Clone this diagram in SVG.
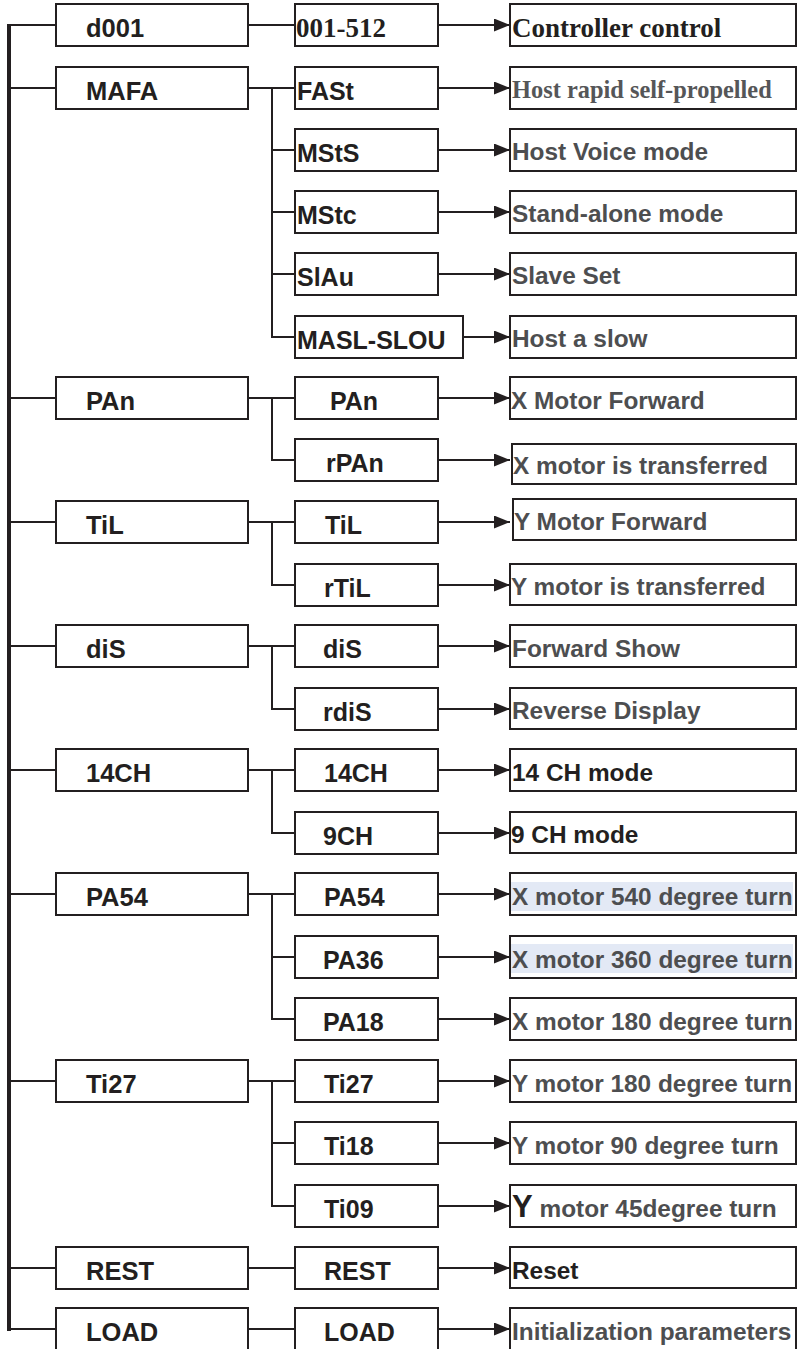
<svg xmlns="http://www.w3.org/2000/svg" width="798" height="1349" viewBox="0 0 798 1349">
<style>
.box{fill:#fff;stroke:#231f20;stroke-width:2}
.hl{fill:#e3e9f5;stroke:none}
.c1{font-family:"Liberation Sans",Arial,sans-serif;font-weight:bold;font-size:25.5px;fill:#231f20}
.c2{font-family:"Liberation Sans",Arial,sans-serif;font-weight:bold;font-size:25px;fill:#231f20}
.c2t{font-family:"Liberation Serif","Times New Roman",serif;font-weight:bold;font-size:27px;fill:#231f20}
.c3{font-family:"Liberation Sans",Arial,sans-serif;font-weight:bold;font-size:24.4px;fill:#4d4e50}
.c3k{font-family:"Liberation Sans",Arial,sans-serif;font-weight:bold;font-size:24.4px;fill:#231f20}
.c3t{font-family:"Liberation Serif","Times New Roman",serif;font-weight:bold;font-size:27px;fill:#231f20}
.c3tg{font-family:"Liberation Serif","Times New Roman",serif;font-weight:bold;font-size:24.4px;fill:#555658}
.ln{fill:none;stroke:#231f20;stroke-width:2}
.trunk{fill:none;stroke:#231f20;stroke-width:4}
.arr{fill:none;stroke:#231f20;stroke-width:2;marker-end:url(#ah)}
</style>
<defs>
<marker id="ah" viewBox="0 0 16 13" refX="16" refY="6.5" markerWidth="16" markerHeight="13" markerUnits="userSpaceOnUse" orient="auto">
<path d="M0 0 L16 6.5 L0 13 Z" fill="#231f20"/>
</marker>
</defs>
<rect width="798" height="1349" fill="#fff"/>

<g id="connectors">
<path class="trunk" d="M9 24 V1331"/>
<path class="ln" d="M9 25 H56 M9 88 H56 M9 398 H56 M9 522 H56 M9 646 H56 M9 770 H56 M9 894 H56 M9 1081 H56 M9 1268 H56 M9 1329 H56"/>
<path class="ln" d="M248 25 H295 M248 88 H295 M248 398 H295 M248 522 H295 M248 646 H295 M248 770 H295 M248 894 H295 M248 1081 H295 M248 1268 H295 M248 1329 H295"/>
<path class="ln" d="M272 88 V337 H295 M272 150 H295 M272 212 H295 M272 274 H295"/>
<path class="ln" d="M272 398 V460 H295"/>
<path class="ln" d="M272 522 V585 H295"/>
<path class="ln" d="M272 646 V709 H295"/>
<path class="ln" d="M272 770 V833 H295"/>
<path class="ln" d="M272 894 V1019 H295 M272 957 H295"/>
<path class="ln" d="M272 1081 V1206 H295 M272 1143 H295"/>
<path class="arr" d="M438 25 H510"/>
<path class="arr" d="M438 88 H510"/>
<path class="arr" d="M438 150 H510"/>
<path class="arr" d="M438 212 H510"/>
<path class="arr" d="M438 274 H510"/>
<path class="arr" d="M463 337 H510"/>
<path class="arr" d="M438 398 H510"/>
<path class="arr" d="M438 460 H510"/>
<path class="arr" d="M438 522 H510"/>
<path class="arr" d="M438 585 H510"/>
<path class="arr" d="M438 646 H510"/>
<path class="arr" d="M438 709 H510"/>
<path class="arr" d="M438 770 H510"/>
<path class="arr" d="M438 833 H510"/>
<path class="arr" d="M438 894 H510"/>
<path class="arr" d="M438 957 H510"/>
<path class="arr" d="M438 1019 H510"/>
<path class="arr" d="M438 1081 H510"/>
<path class="arr" d="M438 1143 H510"/>
<path class="arr" d="M438 1206 H510"/>
<path class="arr" d="M438 1268 H510"/>
<path class="arr" d="M438 1329 H510"/>
</g>

<!-- column 1 -->
<g id="p-d001"><rect class="box" x="56" y="4" width="192" height="42"/><text class="c1" x="86" y="36.5">d001</text></g>
<g id="p-MAFA"><rect class="box" x="56" y="67" width="192" height="42"/><text class="c1" x="86" y="99.5">MAFA</text></g>
<g id="p-PAn"><rect class="box" x="56" y="377" width="192" height="42"/><text class="c1" x="86" y="409.5">PAn</text></g>
<g id="p-TiL"><rect class="box" x="56" y="501" width="192" height="42"/><text class="c1" x="86" y="533.5">TiL</text></g>
<g id="p-diS"><rect class="box" x="56" y="625" width="192" height="42"/><text class="c1" x="86" y="657.5">diS</text></g>
<g id="p-14CH"><rect class="box" x="56" y="749" width="192" height="42"/><text class="c1" x="86" y="781.5">14CH</text></g>
<g id="p-PA54"><rect class="box" x="56" y="873" width="192" height="42"/><text class="c1" x="86" y="905.5">PA54</text></g>
<g id="p-Ti27"><rect class="box" x="56" y="1060" width="192" height="42"/><text class="c1" x="86" y="1092.5">Ti27</text></g>
<g id="p-REST"><rect class="box" x="56" y="1247" width="192" height="42"/><text class="c1" x="86" y="1279.5">REST</text></g>
<g id="p-LOAD"><rect class="box" x="56" y="1308" width="192" height="42"/><text class="c1" x="86" y="1340.5">LOAD</text></g>

<!-- column 2 -->
<g id="s-001-512"><rect class="box" x="295" y="4" width="143" height="42"/><text class="c2t" x="296" y="36.5">001-512</text></g>
<g id="s-FASt"><rect class="box" x="295" y="67" width="143" height="42"/><text class="c2" x="297" y="99.5">FASt</text></g>
<g id="s-MStS"><rect class="box" x="295" y="129" width="143" height="42"/><text class="c2" x="297" y="161.5">MStS</text></g>
<g id="s-MStc"><rect class="box" x="295" y="191" width="143" height="42"/><text class="c2" x="297" y="223.5">MStc</text></g>
<g id="s-SlAu"><rect class="box" x="295" y="253" width="143" height="42"/><text class="c2" x="297" y="285.5">SlAu</text></g>
<g id="s-MASL-SLOU"><rect class="box" x="295" y="316" width="168" height="42"/><text class="c2" x="297" y="348.5">MASL-SLOU</text></g>
<g id="s-PAn"><rect class="box" x="295" y="377" width="143" height="42"/><text class="c2" x="330" y="409.5">PAn</text></g>
<g id="s-rPAn"><rect class="box" x="295" y="439" width="143" height="42"/><text class="c2" x="326" y="471.5">rPAn</text></g>
<g id="s-TiL"><rect class="box" x="295" y="501" width="143" height="42"/><text class="c2" x="325" y="533.5">TiL</text></g>
<g id="s-rTiL"><rect class="box" x="295" y="564" width="143" height="42"/><text class="c2" x="324" y="596.5">rTiL</text></g>
<g id="s-diS"><rect class="box" x="295" y="625" width="143" height="42"/><text class="c2" x="323" y="657.5">diS</text></g>
<g id="s-rdiS"><rect class="box" x="295" y="688" width="143" height="42"/><text class="c2" x="323" y="720.5">rdiS</text></g>
<g id="s-14CH"><rect class="box" x="295" y="749" width="143" height="42"/><text class="c2" x="324" y="781.5">14CH</text></g>
<g id="s-9CH"><rect class="box" x="295" y="812" width="143" height="42"/><text class="c2" x="323" y="844.5">9CH</text></g>
<g id="s-PA54"><rect class="box" x="295" y="873" width="143" height="42"/><text class="c2" x="324" y="905.5">PA54</text></g>
<g id="s-PA36"><rect class="box" x="295" y="936" width="143" height="42"/><text class="c2" x="323" y="968.5">PA36</text></g>
<g id="s-PA18"><rect class="box" x="295" y="998" width="143" height="42"/><text class="c2" x="323" y="1030.5">PA18</text></g>
<g id="s-Ti27"><rect class="box" x="295" y="1060" width="143" height="42"/><text class="c2" x="324" y="1092.5">Ti27</text></g>
<g id="s-Ti18"><rect class="box" x="295" y="1122" width="143" height="42"/><text class="c2" x="324" y="1154.5">Ti18</text></g>
<g id="s-Ti09"><rect class="box" x="295" y="1185" width="143" height="42"/><text class="c2" x="324" y="1217.5">Ti09</text></g>
<g id="s-REST"><rect class="box" x="295" y="1247" width="143" height="42"/><text class="c2" x="324" y="1279.5">REST</text></g>
<g id="s-LOAD"><rect class="box" x="295" y="1308" width="143" height="42"/><text class="c2" x="324" y="1340.5">LOAD</text></g>

<!-- column 3 -->
<g id="d-0"><rect class="box" x="510" y="4" width="286" height="42"/><text class="c3t" x="512" y="36.5">Controller control</text></g>
<g id="d-1"><rect class="box" x="510" y="67" width="286" height="42"/><text class="c3tg" x="512" y="98">Host rapid self-propelled</text></g>
<g id="d-2"><rect class="box" x="510" y="129" width="286" height="42"/><text class="c3" x="512" y="159.5">Host Voice mode</text></g>
<g id="d-3"><rect class="box" x="510" y="191" width="286" height="42"/><text class="c3" x="512" y="222">Stand-alone mode</text></g>
<g id="d-4"><rect class="box" x="510" y="253" width="286" height="42"/><text class="c3" x="512" y="284">Slave Set</text></g>
<g id="d-5"><rect class="box" x="510" y="316" width="286" height="42"/><text class="c3" x="512" y="347">Host a slow</text></g>
<g id="d-6"><rect class="box" x="510" y="377" width="286" height="42"/><text class="c3" x="511" y="408.5">X Motor Forward</text></g>
<g id="d-7"><rect class="box" x="512" y="444" width="284" height="40"/><text class="c3" x="513" y="473.5">X motor is transferred</text></g>
<g id="d-8"><rect class="box" x="513" y="499" width="283" height="41"/><text class="c3" x="514" y="530">Y Motor Forward</text></g>
<g id="d-9"><rect class="box" x="510" y="564" width="286" height="41"/><text class="c3" x="511" y="594.5">Y motor is transferred</text></g>
<g id="d-10"><rect class="box" x="510" y="625" width="286" height="42"/><text class="c3" x="512" y="656.5">Forward Show</text></g>
<g id="d-11"><rect class="box" x="510" y="688" width="286" height="41"/><text class="c3" x="512" y="719">Reverse Display</text></g>
<g id="d-12"><rect class="box" x="510" y="749" width="286" height="42"/><text class="c3k" x="512" y="780.5">14 CH mode</text></g>
<g id="d-13"><rect class="box" x="510" y="812" width="286" height="41"/><text class="c3k" x="511" y="843">9 CH mode</text></g>
<g id="d-14"><rect class="box" x="510" y="873" width="286" height="42"/><rect class="hl" x="511" y="882" width="282" height="29"/><text class="c3" x="512" y="905">X motor 540 degree turn</text></g>
<g id="d-15"><rect class="box" x="510" y="936" width="286" height="42"/><rect class="hl" x="511" y="944" width="282" height="29"/><text class="c3" x="512" y="968">X motor 360 degree turn</text></g>
<g id="d-16"><rect class="box" x="510" y="998" width="286" height="42"/><text class="c3" x="512" y="1030">X motor 180 degree turn</text></g>
<g id="d-17"><rect class="box" x="510" y="1060" width="286" height="42"/><text class="c3" x="512" y="1092">Y motor 180 degree turn</text></g>
<g id="d-18"><rect class="box" x="510" y="1122" width="286" height="42"/><text class="c3" x="512" y="1154">Y motor 90 degree turn</text></g>
<g id="d-19"><rect class="box" x="510" y="1185" width="286" height="42"/><text class="c3" x="512" y="1217"><tspan fill="#231f20" font-size="31px">Y</tspan> motor 45degree turn</text></g>
<g id="d-20"><rect class="box" x="510" y="1247" width="286" height="41"/><text class="c3k" x="512" y="1278.5">Reset</text></g>
<g id="d-21"><rect class="box" x="510" y="1308" width="286" height="42"/><text class="c3" x="512" y="1340">Initialization parameters</text></g>
</svg>
